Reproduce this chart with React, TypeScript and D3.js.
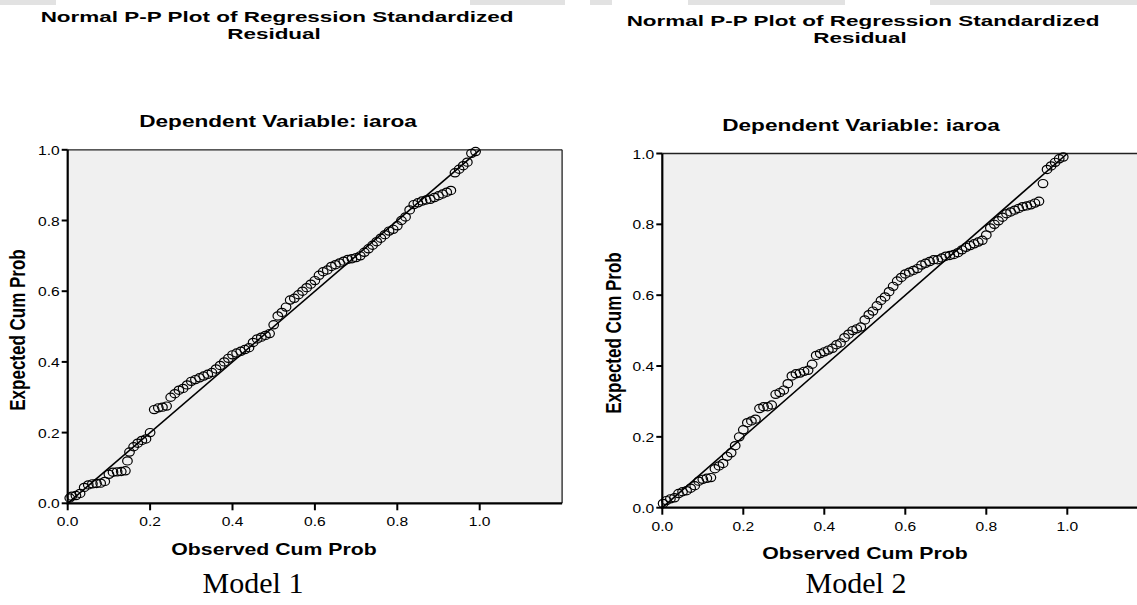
import React from "react";
import * as d3 from "d3";

// ---------- Data ----------
const model1Observed = [
  0.005, 0.01, 0.02, 0.03, 0.04, 0.05, 0.06, 0.07, 0.08, 0.09,
  0.10, 0.11, 0.12, 0.13, 0.14, 0.145, 0.15, 0.16, 0.17, 0.18,
  0.19, 0.20, 0.21, 0.22, 0.23, 0.24, 0.25, 0.26, 0.27, 0.28,
  0.29, 0.30, 0.31, 0.32, 0.33, 0.34, 0.35, 0.36, 0.37, 0.38,
  0.39, 0.40, 0.41, 0.42, 0.43, 0.44, 0.45, 0.46, 0.47, 0.48,
  0.49, 0.50, 0.51, 0.52, 0.53, 0.54, 0.55, 0.56, 0.57, 0.58,
  0.59, 0.60, 0.61, 0.62, 0.63, 0.64, 0.65, 0.66, 0.67, 0.68,
  0.69, 0.70, 0.71, 0.72, 0.73, 0.74, 0.75, 0.76, 0.77, 0.78,
  0.79, 0.80, 0.81, 0.82, 0.83, 0.84, 0.85, 0.86, 0.87, 0.88,
  0.89, 0.90, 0.91, 0.92, 0.93, 0.94, 0.95, 0.96, 0.97, 0.98, 0.99,
];
const model1Expected = [
  0.015, 0.02, 0.022, 0.028, 0.045, 0.052, 0.055, 0.056, 0.057, 0.062,
  0.082, 0.088, 0.089, 0.09, 0.092, 0.12, 0.145, 0.16, 0.17, 0.178,
  0.182, 0.20, 0.265, 0.27, 0.272, 0.275, 0.30, 0.31, 0.32, 0.325,
  0.335, 0.345, 0.35, 0.355, 0.36, 0.365, 0.37, 0.38, 0.39, 0.40,
  0.41, 0.42, 0.425, 0.43, 0.435, 0.44, 0.455, 0.465, 0.47, 0.475,
  0.48, 0.505, 0.53, 0.54, 0.555, 0.575, 0.58, 0.59, 0.60, 0.61,
  0.62, 0.63, 0.645, 0.655, 0.66, 0.67, 0.675, 0.68, 0.685, 0.69,
  0.692, 0.695, 0.70, 0.71, 0.72, 0.73, 0.74, 0.75, 0.76, 0.77,
  0.775, 0.785, 0.80, 0.81, 0.83, 0.845, 0.85, 0.855, 0.858, 0.86,
  0.865, 0.87, 0.875, 0.88, 0.885, 0.935, 0.945, 0.955, 0.965, 0.99, 0.995,
];

const model2Observed = [
  0.002, 0.01, 0.02, 0.03, 0.04, 0.05, 0.06, 0.07, 0.08, 0.09,
  0.10, 0.11, 0.12, 0.13, 0.14, 0.15, 0.16, 0.17, 0.18, 0.19,
  0.20, 0.21, 0.22, 0.23, 0.24, 0.25, 0.26, 0.27, 0.28, 0.29,
  0.30, 0.31, 0.32, 0.33, 0.34, 0.35, 0.36, 0.37, 0.38, 0.39,
  0.40, 0.41, 0.42, 0.43, 0.44, 0.45, 0.46, 0.47, 0.48, 0.49,
  0.50, 0.51, 0.52, 0.53, 0.54, 0.55, 0.56, 0.57, 0.58, 0.59,
  0.60, 0.61, 0.62, 0.63, 0.64, 0.65, 0.66, 0.67, 0.68, 0.69,
  0.70, 0.71, 0.72, 0.73, 0.74, 0.75, 0.76, 0.77, 0.78, 0.79,
  0.80, 0.81, 0.82, 0.83, 0.84, 0.85, 0.86, 0.87, 0.88, 0.89,
  0.90, 0.91, 0.92, 0.93, 0.94, 0.95, 0.96, 0.97, 0.98, 0.99,
];
const model2Expected = [
  0.012, 0.02, 0.025, 0.028, 0.04, 0.045, 0.048, 0.055, 0.062, 0.075,
  0.08, 0.083, 0.085, 0.11, 0.118, 0.125, 0.145, 0.155, 0.175, 0.20,
  0.22, 0.24, 0.245, 0.25, 0.28, 0.285, 0.285, 0.29, 0.32, 0.325,
  0.332, 0.35, 0.372, 0.378, 0.38, 0.385, 0.388, 0.405, 0.43, 0.435,
  0.44, 0.445, 0.45, 0.46, 0.465, 0.48, 0.49, 0.50, 0.505, 0.51,
  0.53, 0.545, 0.555, 0.57, 0.585, 0.595, 0.61, 0.625, 0.64, 0.65,
  0.66, 0.665, 0.67, 0.675, 0.685, 0.69, 0.695, 0.70, 0.70, 0.705,
  0.71, 0.712, 0.715, 0.72, 0.728, 0.735, 0.74, 0.745, 0.75, 0.755,
  0.77, 0.79, 0.80, 0.81, 0.82, 0.83, 0.835, 0.84, 0.845, 0.85,
  0.852, 0.855, 0.86, 0.865, 0.915, 0.955, 0.965, 0.975, 0.985, 0.99,
];

const tickValues = [0, 0.2, 0.4, 0.6, 0.8, 1.0];
const titleLine1 = "Normal P-P Plot of Regression Standardized";
const titleLine2 = "Residual";
const subtitle = "Dependent Variable: iaroa";
const xTitle = "Observed Cum Prob";
const yTitle = "Expected Cum Prob";
const captions = ["Model 1", "Model 2"];

// ---------- Layout ----------
const W = 1137;
const H = 605;
const SANS = "'Liberation Sans', Arial, sans-serif";
const SERIF = "'Liberation Serif', 'Times New Roman', serif";

type Panel = {
  obs: number[];
  exp: number[];
  x0: number;
  x1: number;
  y0: number;
  y1: number;
  titleX: number;
  titleY: number;
  subY: number;
  subX: number;
  xLabX: number;
  xLabY: number;
  yLabX: number;
  yLabY: number;
  capX: number;
  capY: number;
  caption: string;
};

const panels: Panel[] = [
  {
    obs: model1Observed, exp: model1Expected,
    x0: 67.7, x1: 479.7, y0: 503.3, y1: 149.8,
    titleX: 277, titleY: 22, subX: 278, subY: 127,
    xLabX: 274, xLabY: 555, yLabX: 25, yLabY: 330,
    capX: 253, capY: 593, caption: captions[0],
  },
  {
    obs: model2Observed, exp: model2Expected,
    x0: 662.3, x1: 1067.3, y0: 507.7, y1: 153.5,
    titleX: 863, titleY: 26, subX: 861, subY: 131,
    xLabX: 865, xLabY: 559, yLabX: 621, yLabY: 333,
    capX: 856, capY: 593, caption: captions[1],
  },
];

// faint remnants of a cut-off band at the very top of the picture
const topBands = [
  [0, 56], [470, 565], [590, 612], [688, 845], [930, 1137],
];

function SText({ x, y, size, weight, family, children, sx = 1.3, anchor = "middle" }: any) {
  return (
    <text
      transform={`translate(${x},${y}) scale(${sx},1)`}
      fontSize={size}
      fontWeight={weight}
      fontFamily={family}
      textAnchor={anchor}
      fill="#000"
    >
      {children}
    </text>
  );
}

function PPPanel({ p }: { p: Panel }) {
  const x = d3.scaleLinear().domain([0, 1]).range([p.x0, p.x1]);
  const y = d3.scaleLinear().domain([0, 1]).range([p.y0, p.y1]);
  const fmt = d3.format(".1f");
  const xRight = x(1.2);
  const yTop = y(1);
  const line = d3.line<number>().x((d) => x(d)).y((d) => y(d))([0, 1]) || "";
  return (
    <g>
      <SText x={p.titleX} y={p.titleY} size={14.5} weight="bold" family={SANS} sx={1.55}>{titleLine1}</SText>
      <SText x={p.titleX - 3} y={p.titleY + 16.5} size={14.5} weight="bold" family={SANS} sx={1.55}>{titleLine2}</SText>
      <SText x={p.subX} y={p.subY} size={17} weight="bold" family={SANS} sx={1.33}>{subtitle}</SText>

      <rect x={x(0)} y={yTop} width={xRight - x(0)} height={y(0) - yTop} fill="#F0F0F0" />
      <line x1={x(0)} x2={xRight} y1={yTop} y2={yTop} stroke="#222" strokeWidth={1.3} />
      <line x1={xRight} x2={xRight} y1={yTop} y2={y(0)} stroke="#222" strokeWidth={1.3} />

      <path d={line} stroke="#000" strokeWidth={1.6} fill="none" />
      {p.obs.map((o, i) => (
        <ellipse key={i} cx={x(o)} cy={y(p.exp[i])} rx={4.8} ry={4.1} fill="none" stroke="#000" strokeWidth={1.2} />
      ))}

      <line x1={x(0)} x2={x(0)} y1={yTop} y2={y(0) + 1} stroke="#000" strokeWidth={2.2} />
      <line x1={x(0) - 1} x2={xRight} y1={y(0)} y2={y(0)} stroke="#000" strokeWidth={2.2} />

      {tickValues.map((t) => (
        <g key={"y" + t}>
          <line x1={x(0) - 6} x2={x(0)} y1={y(t)} y2={y(t)} stroke="#000" strokeWidth={2} />
          <SText x={x(0) - 8} y={y(t) + 5} size={13} weight="normal" family={SANS} anchor="end" sx={1.2}>{fmt(t)}</SText>
        </g>
      ))}
      {tickValues.map((t) => (
        <g key={"x" + t}>
          <line x1={x(t)} x2={x(t)} y1={y(0)} y2={y(0) + 7} stroke="#000" strokeWidth={2} />
          <SText x={x(t)} y={y(0) + 23} size={13} weight="normal" family={SANS} sx={1.2}>{fmt(t)}</SText>
        </g>
      ))}

      <SText x={p.xLabX} y={p.xLabY} size={17} weight="bold" family={SANS} sx={1.25}>{xTitle}</SText>
      <text
        transform={`translate(${p.yLabX},${p.yLabY}) scale(1.25,1) rotate(-90)`}
        fontSize={17}
        fontWeight="bold"
        fontFamily={SANS}
        textAnchor="middle"
      >
        {yTitle}
      </text>
      <SText x={p.capX} y={p.capY} size={30} weight="normal" family={SERIF} sx={1}>{p.caption}</SText>
    </g>
  );
}

export default function App() {
  return (
    <svg
      width={W}
      height={H}
      viewBox={`0 0 ${W} ${H}`}
      style={{ position: "absolute", left: 0, top: 0, background: "#fff" }}
    >
      <rect x={0} y={0} width={W} height={H} fill="#fff" />
      {topBands.map(([a, b], i) => (
        <rect key={i} x={a} y={0} width={b - a} height={5} fill="#e2e2e2" />
      ))}
      {panels.map((p, i) => (
        <PPPanel key={i} p={p} />
      ))}
    </svg>
  );
}
